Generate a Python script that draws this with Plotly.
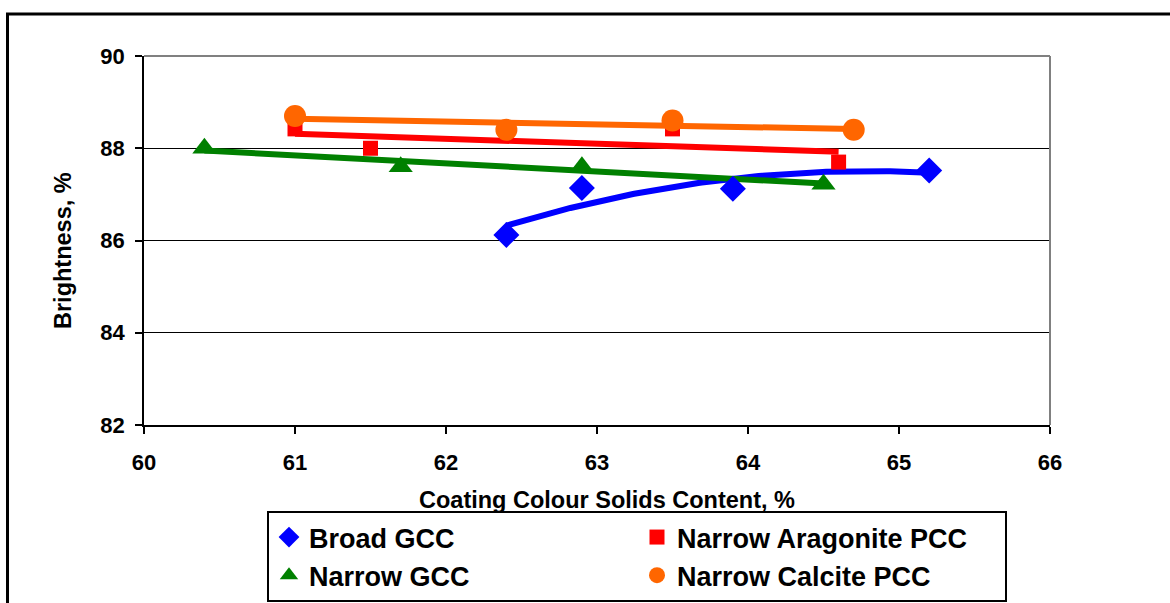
import numpy as np
import plotly.graph_objects as go

# ---- data ----
broad_gcc_x = [62.4, 62.9, 63.9, 65.2]
broad_gcc_y = [86.12, 87.14, 87.12, 87.52]

arag_pcc_x = [61.0, 61.5, 63.5, 64.6]
arag_pcc_y = [88.42, 88.0, 88.42, 87.7]

narrow_gcc_x = [60.4, 61.7, 62.9, 64.5]
narrow_gcc_y = [88.0, 87.6, 87.6, 87.22]

calcite_pcc_x = [61.0, 62.4, 63.5, 64.7]
calcite_pcc_y = [88.7, 88.4, 88.6, 88.4]

series_names = ["Broad GCC", "Narrow Aragonite PCC", "Narrow GCC", "Narrow Calcite PCC"]
x_ticks = [60, 61, 62, 63, 64, 65, 66]
y_ticks = [82, 84, 86, 88, 90]
x_title = "Coating Colour Solids Content, %"
y_title = "Brightness, %"

FONT = "Liberation Sans, Arial, sans-serif"

series = [
    (series_names[0], broad_gcc_x, broad_gcc_y, "#0000FF", "diamond", 20, 2),
    (series_names[1], arag_pcc_x, arag_pcc_y, "#FF0000", "square", 15, 1),
    (series_names[2], narrow_gcc_x, narrow_gcc_y, "#008000", "triangle-up", 21, 1),
    (series_names[3], calcite_pcc_x, calcite_pcc_y, "#FF6600", "circle", 22, 1),
]

fig = go.Figure()

# trendlines (fitted from the data)
for name, xs, ys, color, sym, size, deg in series:
    coef = np.polyfit(xs, ys, deg)
    tx = np.linspace(min(xs), max(xs), 120)
    ty = np.polyval(coef, tx)
    fig.add_trace(go.Scatter(x=tx, y=ty, mode="lines",
                             line=dict(color=color, width=6),
                             showlegend=False, hoverinfo="skip"))

# markers
for name, xs, ys, color, sym, size, deg in series:
    fig.add_trace(go.Scatter(x=xs, y=ys, mode="markers", name=name,
                             marker=dict(color=color, symbol=sym, size=size,
                                         line=dict(width=0))))

L, R, T, B = 144, 120, 56, 178
W, H = 1170, 603
pw = W - L - R
ph = H - T - B

def px_x(p):
    return (p - L) / pw

def px_y(p):
    return (H - B - p) / ph

title_font = dict(family=FONT, size=23.5, color="black", weight="bold")

fig.update_layout(
    width=W, height=H,
    margin=dict(l=L, r=R, t=T, b=B, pad=0, autoexpand=False),
    paper_bgcolor="white", plot_bgcolor="white",
    font=dict(family=FONT, color="black"),
    showlegend=True,
    legend=dict(
        orientation="h",
        x=px_x(267), xanchor="left",
        y=px_y(511), yanchor="top",
        entrywidth=323, entrywidthmode="pixels",
        bordercolor="black", borderwidth=2,
        bgcolor="white",
        font=dict(family=FONT, size=27, color="black", weight="bold"),
        traceorder="normal",
    ),
    xaxis=dict(
        range=[60, 66], tickvals=x_ticks,
        showgrid=False, zeroline=False,
        showline=True, linecolor="black", linewidth=1.5,
        ticks="outside", ticklen=7, tickcolor="black", tickwidth=1.5,
        ticklabelstandoff=10,
        tickfont=dict(family=FONT, size=22, color="black", weight="bold"),
    ),
    yaxis=dict(
        range=[82, 90], tickvals=y_ticks,
        showgrid=True, gridcolor="black", gridwidth=1,
        zeroline=False,
        showline=True, linecolor="black", linewidth=1.5,
        ticks="outside", ticklen=7, tickcolor="black", tickwidth=1.5,
        ticklabelstandoff=6,
        tickfont=dict(family=FONT, size=22, color="black", weight="bold"),
    ),
    annotations=[
        dict(text=x_title, xref="paper", yref="paper",
             x=px_x(607), y=px_y(500), xanchor="center", yanchor="middle",
             showarrow=False, font=title_font),
        dict(text=y_title, xref="paper", yref="paper", textangle=-90,
             x=px_x(63), y=px_y(251), xanchor="center", yanchor="middle",
             showarrow=False, font=title_font),
    ],
    shapes=[
        # gray top and right borders of the plot area
        dict(type="line", xref="paper", yref="paper", x0=0, x1=1, y0=1, y1=1,
             line=dict(color="#808080", width=2), layer="above"),
        dict(type="line", xref="paper", yref="paper", x0=1, x1=1, y0=0, y1=1,
             line=dict(color="#808080", width=2), layer="above"),
        # outer chart frame
        dict(type="rect", xref="paper", yref="paper",
             x0=px_x(7.5), x1=px_x(1200), y0=px_y(640), y1=px_y(14),
             line=dict(color="black", width=3), layer="above"),
    ],
)

fig.write_html("out.html")
